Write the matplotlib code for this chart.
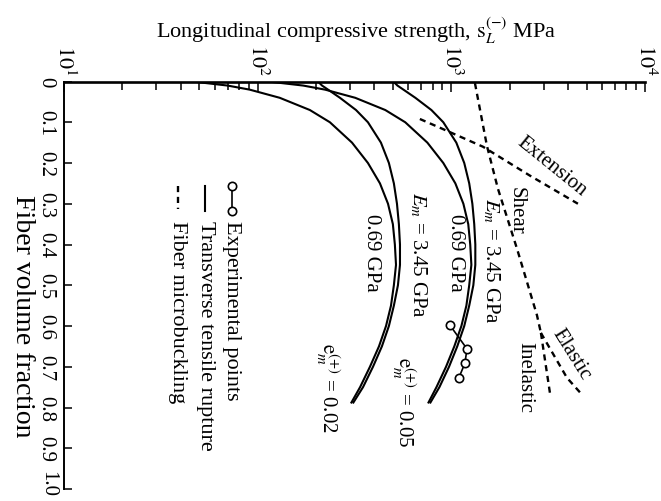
import numpy as np
import matplotlib
matplotlib.use("Agg")
import matplotlib.pyplot as plt
from matplotlib.ticker import LogLocator, NullFormatter
from matplotlib.lines import Line2D

plt.rcParams['font.family'] = ['Liberation Serif', 'DejaVu Serif']
plt.rcParams['mathtext.fontset'] = 'stix'

# --- data ---
# fiber volume fraction grid for the transverse tensile rupture curves
v_rupt = [0.0, 0.01, 0.02, 0.04, 0.07, 0.10, 0.15, 0.20, 0.25, 0.30, 0.35,
          0.40, 0.45, 0.50, 0.55, 0.60, 0.65, 0.70, 0.75, 0.79]
# e_m(+) = 0.02
s_002_Em345 = [205, 215, 231, 266, 322, 371, 433, 476, 505, 524, 536,
               543, 543, 530, 505, 476, 438, 394, 350, 310]
s_002_Em069 = [46, 70, 91, 130, 186, 236, 307, 371, 428, 471, 499,
               511, 518, 505, 488, 460, 423, 380, 338, 303]
# e_m(+) = 0.05
s_005_Em345 = [502, 527, 566, 652, 789, 909, 1061, 1166, 1237, 1284, 1313,
               1330, 1330, 1299, 1237, 1166, 1073, 973, 868, 775]
s_005_Em069 = [113, 172, 223, 319, 456, 578, 752, 909, 1049, 1154, 1223,
               1252, 1269, 1237, 1196, 1127, 1036, 939, 838, 758]

# fiber microbuckling (dashed)
v_shear = [0.004, 0.158, 0.263, 0.41, 0.573, 0.617]
s_shear = [1324, 1527, 1740, 2182, 2766, 2901]
v_elastic = [0.617, 0.727, 0.771]
s_elastic = [2901, 3953, 4780]
v_inelastic = [0.617, 0.764]
s_inelastic = [2901, 3229]
v_ext = [0.092, 0.121, 0.160, 0.231, 0.300]
s_ext = [688, 949, 1456, 2546, 4504]

# experimental points
v_exp = [0.598, 0.656, 0.691, 0.727]
s_exp = [983, 1204, 1176, 1094]

x_ticks = [10, 100, 1000, 10000]
x_ticklabels = ['$10^1$', '$10^2$', '$10^3$', '$10^4$']
y_ticks = [0, 0.1, 0.2, 0.3, 0.4, 0.5, 0.6, 0.7, 0.8, 0.9, 1.0]
y_ticklabels = ['0', '0.1', '0.2', '0.3', '0.4', '0.5', '0.6', '0.7', '0.8', '0.9', '1.0']

# --- figure ---
W, H = 661, 502
fig = plt.figure(figsize=(W / 100, H / 100), dpi=100)
ax = fig.add_axes([64 / W, (H - 490) / H, 581 / W, 407.5 / H])

ax.set_xscale('log')
ax.set_xlim(10, 1e4)
ax.set_ylim(1.0, 0.0)

solid = dict(color='black', lw=1.5, solid_capstyle='butt', solid_joinstyle='round')
ax.plot(s_002_Em345, v_rupt, **solid)
ax.plot(s_002_Em069, v_rupt, **solid)
ax.plot(s_005_Em345, v_rupt, **solid)
ax.plot(s_005_Em069, v_rupt, **solid)

dash = dict(color='black', lw=1.7, linestyle=(0, (2.6, 2.0)))
ax.plot(s_shear, v_shear, **dash)
ax.plot(s_elastic, v_elastic, **dash)
ax.plot(s_inelastic, v_inelastic, **dash)
ax.plot(s_ext, v_ext, **dash)

ax.plot(s_exp, v_exp, color='black', lw=1.2, marker='o', ms=6,
        mfc='white', mec='black', mew=1.2)

# axes styling: only top and left spines
for side in ['right', 'bottom']:
    ax.spines[side].set_visible(False)
ax.spines['top'].set_linewidth(1.9)
ax.spines['left'].set_linewidth(1.4)

ax.xaxis.tick_top()
ax.set_xticks(x_ticks)
ax.set_xticklabels(x_ticklabels, rotation=-90, fontsize=16)
ax.xaxis.set_minor_locator(LogLocator(base=10, subs=range(2, 10)))
ax.xaxis.set_minor_formatter(NullFormatter())
ax.tick_params(axis='x', which='major', direction='in', length=7, width=1.1, pad=5)
ax.tick_params(axis='x', which='minor', direction='in', length=5.5, width=1.1)

# the last label ("1.0") sits at the picture's edge, so it is drawn separately a bit higher
ax.set_yticks(y_ticks)
ax.set_yticklabels(y_ticklabels[:-1] + [''], rotation=-90, fontsize=15, va='center')
ax.tick_params(axis='y', which='major', direction='in', length=6, width=1.1, pad=6)
ax.annotate(y_ticklabels[-1], xy=(0, y_ticks[-1]), xycoords=('axes fraction', 'data'),
            xytext=(-12, 4), textcoords='offset points', rotation=-90,
            ha='center', va='center', fontsize=15)

# axis titles
fig.text(356 / W, 1 - 38 / H, r'Longitudinal compressive strength, $\mathrm{s}_L^{(-)}$ MPa',
         ha='center', va='baseline', fontsize=16)
fig.text(22 / W, 1 - 316 / H, 'Fiber volume fraction', rotation=-90,
         ha='center', va='center', fontsize=20)

# curve labels (axes fractions)
lab = dict(transform=ax.transAxes, ha='center', va='center', fontsize=15)
ax.text(0.530, 0.581, '0.69 GPa', rotation=-90, **lab)
ax.text(0.609, 0.576, '$E_m$ = 3.45 GPa', rotation=-90, **lab)
ax.text(0.673, 0.583, '0.69 GPa', rotation=-90, **lab)
ax.text(0.735, 0.561, '$E_m$ = 3.45 GPa', rotation=-90, **lab)
ax.text(0.778, 0.686, 'Shear', rotation=-90, **lab)
ax.text(0.840, 0.793, 'Extension', rotation=-39, **lab)
ax.text(0.873, 0.331, 'Elastic', rotation=-58, **lab)
ax.text(0.793, 0.275, 'Inelastic', rotation=-90, **lab)
ax.text(0.454, 0.251, r'$\mathrm{e}_m^{(+)}$ = 0.02', rotation=-90, **lab)
ax.text(0.585, 0.216, r'$\mathrm{e}_m^{(+)}$ = 0.05', rotation=-90, **lab)

# hand-drawn legend, rotated like the rest of the figure
tr = ax.transAxes
ax.add_line(Line2D([0.289, 0.289], [0.7445, 0.681], transform=tr, color='black', lw=1.2,
                   marker='o', ms=6, mfc='white', mec='black', mew=1.2))
ax.add_line(Line2D([0.243, 0.243], [0.7445, 0.681], transform=tr, color='black', lw=1.5))
ax.add_line(Line2D([0.196, 0.196], [0.7445, 0.686], transform=tr, color='black', lw=1.7,
                   linestyle=(0, (2.6, 2.0))))
leg = dict(transform=tr, rotation=-90, rotation_mode='anchor', ha='left', va='center',
           fontsize=16)
ax.text(0.289, 0.659, 'Experimental points', **leg)
ax.text(0.243, 0.659, 'Transverse tensile rupture', **leg)
ax.text(0.196, 0.659, 'Fiber microbuckling', **leg)

fig.savefig('out.png', dpi=100)
